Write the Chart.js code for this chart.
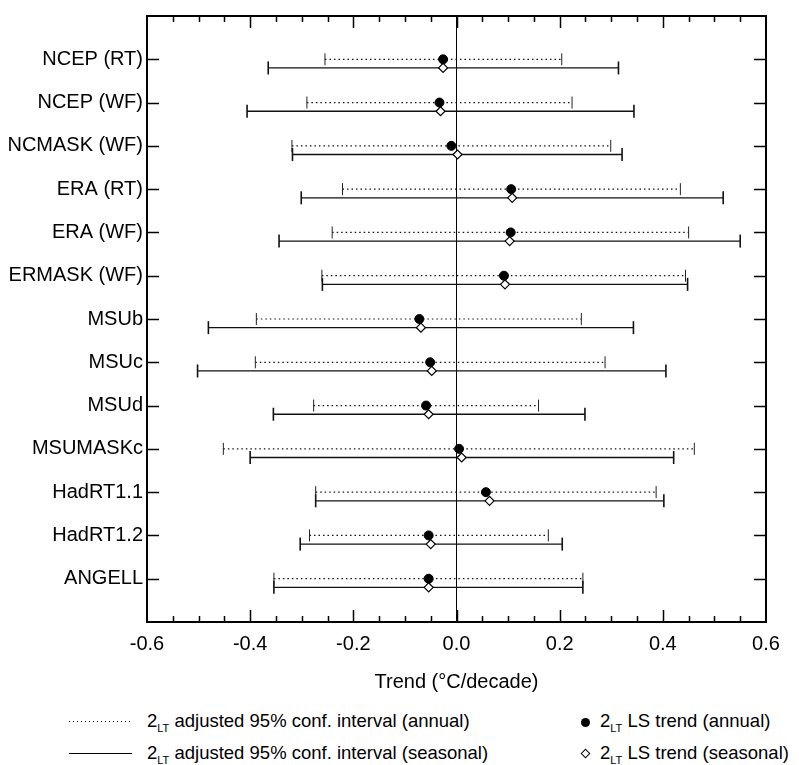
<!DOCTYPE html>
<html>
<head>
<meta charset="utf-8">
<script src="https://cdn.jsdelivr.net/npm/chart.js@4.4.0/dist/chart.umd.min.js"></script>
<style>
  body { margin: 0; background: #fff; font-family: "Liberation Sans", Arial, sans-serif; }
  #wrap { position: relative; width: 799px; height: 765px; }
  #chartBox { position: absolute; left: 0; top: 0; width: 799px; height: 694px; }
  .legText { position: absolute; font-size: 18.5px; line-height: 20px; color: #000; white-space: nowrap; }
  .legText sub { font-size: 11px; vertical-align: -5px; line-height: 0; }
  .sample { position: absolute; width: 63px; height: 1px; }
</style>
</head>
<body>
<div id="wrap">
  <div id="chartBox"><canvas id="trendChart"></canvas></div>

  <div class="sample" style="left:69px; top:721px; background: repeating-linear-gradient(90deg, #000 0 1.5px, transparent 1.5px 4px);"></div>
  <div class="legText" style="left:147px; top:711px;">2<sub>LT</sub> adjusted 95% conf. interval (annual)</div>

  <div class="sample" style="left:69px; top:753px; background:#000;"></div>
  <div class="legText" style="left:147px; top:743px;">2<sub>LT</sub> adjusted 95% conf. interval (seasonal)</div>

  <div style="position:absolute; left:581px; top:718px; width:9px; height:9px; border-radius:50%; background:#000;"></div>
  <div class="legText" style="left:600px; top:711px;">2<sub>LT</sub> LS trend (annual)</div>

  <div style="position:absolute; left:582px; top:750px; width:5px; height:5px; border:1px solid #000; transform:rotate(45deg);"></div>
  <div class="legText" style="left:600px; top:743px;">2<sub>LT</sub> LS trend (seasonal)</div>
</div>

<script>
// data sets, top to bottom
const datasetNames = ['NCEP (RT)', 'NCEP (WF)', 'NCMASK (WF)', 'ERA (RT)', 'ERA (WF)', 'ERMASK (WF)',
    'MSUb', 'MSUc', 'MSUd', 'MSUMASKc', 'HadRT1.1', 'HadRT1.2', 'ANGELL'];

// LS trends (deg C / decade)
const trendAnnual   = [-0.026, -0.033, -0.010, 0.106, 0.105, 0.092, -0.072, -0.051, -0.059, 0.005, 0.057, -0.054, -0.054];
const trendSeasonal = [-0.026, -0.031,  0.002, 0.108, 0.103, 0.094, -0.069, -0.048, -0.054, 0.010, 0.064, -0.050, -0.054];

// adjusted 95% confidence intervals
const annualLow    = [-0.255, -0.290, -0.319, -0.221, -0.241, -0.261, -0.388, -0.390, -0.277, -0.452, -0.273, -0.285, -0.354];
const annualHigh   = [ 0.204,  0.224,  0.299,  0.434,  0.450,  0.444,  0.242,  0.288,  0.159,  0.461,  0.387,  0.178,  0.245];
const seasonalLow  = [-0.365, -0.406, -0.318, -0.301, -0.344, -0.260, -0.481, -0.502, -0.355, -0.400, -0.273, -0.303, -0.354];
const seasonalHigh = [ 0.314,  0.344,  0.321,  0.517,  0.550,  0.448,  0.343,  0.406,  0.249,  0.421,  0.402,  0.205,  0.245];

// x axis
const xMin = -0.6;
const xMax = 0.6;
const xMajorStep = 0.2;
const xMinorStep = 0.05;
const seasonalOffset = 0.2;   // seasonal bar sits a bit below the annual one

const datasets = [];

datasets.push({
    label: 'LS trend (annual)',
    data: trendAnnual.map((x, i) => ({ x: x, y: i })),
    pointStyle: 'circle',
    pointRadius: 4.5,
    backgroundColor: '#000',
    borderColor: '#000',
    showLine: false,
    order: 0
});
datasets.push({
    label: 'LS trend (seasonal)',
    data: trendSeasonal.map((x, i) => ({ x: x, y: i + seasonalOffset })),
    pointStyle: 'rectRot',
    pointRadius: 4.5,
    backgroundColor: '#fff',
    borderColor: '#000',
    borderWidth: 1.2,
    showLine: false,
    order: 0
});

datasetNames.forEach((name, i) => {
    datasets.push({
        label: name + ' annual',
        data: [{ x: annualLow[i], y: i }, { x: annualHigh[i], y: i }],
        showLine: true,
        borderColor: '#111',
        borderWidth: 1.2,
        borderDash: [1.5, 3],
        pointStyle: 'line',
        rotation: 90,
        pointRadius: 6,
        pointBorderWidth: 1,
        pointBorderColor: '#222',
        order: 1
    });
    datasets.push({
        label: name + ' seasonal',
        data: [{ x: seasonalLow[i], y: i + seasonalOffset }, { x: seasonalHigh[i], y: i + seasonalOffset }],
        showLine: true,
        borderColor: '#111',
        borderWidth: 1.3,
        pointStyle: 'line',
        rotation: 90,
        pointRadius: 6.5,
        pointBorderWidth: 1.6,
        pointBorderColor: '#111',
        order: 1
    });
});

// frame plus inward tick marks on all four sides
const frameTicks = {
    id: 'frameTicks',
    afterDraw(chart) {
        const ctx = chart.ctx;
        const area = chart.chartArea;
        const xs = chart.scales.x;
        const ys = chart.scales.y;
        ctx.save();
        ctx.strokeStyle = '#000';
        ctx.lineWidth = 2;
        ctx.strokeRect(area.left, area.top, area.right - area.left, area.bottom - area.top);

        ctx.lineWidth = 1.5;
        ctx.beginPath();
        const n = Math.round((xMax - xMin) / xMinorStep);
        for (let k = 1; k < n; k++) {
            const v = xMin + k * xMinorStep;
            const px = Math.round(xs.getPixelForValue(v)) + 0.5;
            const isMajor = k % Math.round(xMajorStep / xMinorStep) === 0;
            const len = isMajor ? 12 : 6;
            ctx.moveTo(px, area.bottom);
            ctx.lineTo(px, area.bottom - len);
            ctx.moveTo(px, area.top);
            ctx.lineTo(px, area.top + len);
        }
        datasetNames.forEach((name, i) => {
            const py = Math.round(ys.getPixelForValue(i)) + 0.5;
            ctx.moveTo(area.left, py);
            ctx.lineTo(area.left + 12, py);
            ctx.moveTo(area.right, py);
            ctx.lineTo(area.right - 12, py);
        });
        ctx.stroke();
        ctx.restore();
    }
};

const ctx = document.getElementById('trendChart').getContext('2d');
new Chart(ctx, {
    type: 'scatter',
    data: { datasets: datasets },
    options: {
        responsive: true,
        maintainAspectRatio: false,
        animation: false,
        events: [],
        layout: { padding: { top: 11, right: 33, left: 0, bottom: 0 } },
        plugins: {
            legend: { display: false },
            tooltip: { enabled: false }
        },
        scales: {
            x: {
                type: 'linear',
                position: 'bottom',
                min: xMin,
                max: xMax,
                afterFit: (scale) => { scale.height = 72; },
                ticks: {
                    stepSize: xMajorStep,
                    padding: 10,
                    color: '#000',
                    font: { family: '"Liberation Sans", Arial, sans-serif', size: 20 },
                    callback: (v) => Number(v).toFixed(1).replace('-0.0', '0.0')
                },
                grid: {
                    drawTicks: false,
                    lineWidth: 1,
                    color: (c) => (c.tick && Math.abs(c.tick.value) < 1e-9) ? '#000' : 'rgba(0,0,0,0)'
                },
                border: { display: false },
                title: {
                    display: true,
                    text: 'Trend (°C/decade)',
                    color: '#000',
                    font: { family: '"Liberation Sans", Arial, sans-serif', size: 20 },
                    padding: { top: 0, bottom: 0 }
                }
            },
            y: {
                type: 'linear',
                min: -1,
                max: datasetNames.length,
                reverse: true,
                afterFit: (scale) => { scale.width = 147; },
                afterBuildTicks: (scale) => { scale.ticks = datasetNames.map((_, i) => ({ value: i })); },
                ticks: {
                    padding: 4,
                    color: '#000',
                    font: { family: '"Liberation Sans", Arial, sans-serif', size: 20 },
                    callback: (v) => datasetNames[v] || ''
                },
                grid: { display: false, drawTicks: false },
                border: { display: false }
            }
        }
    },
    plugins: [frameTicks]
});
</script>
</body>
</html>
